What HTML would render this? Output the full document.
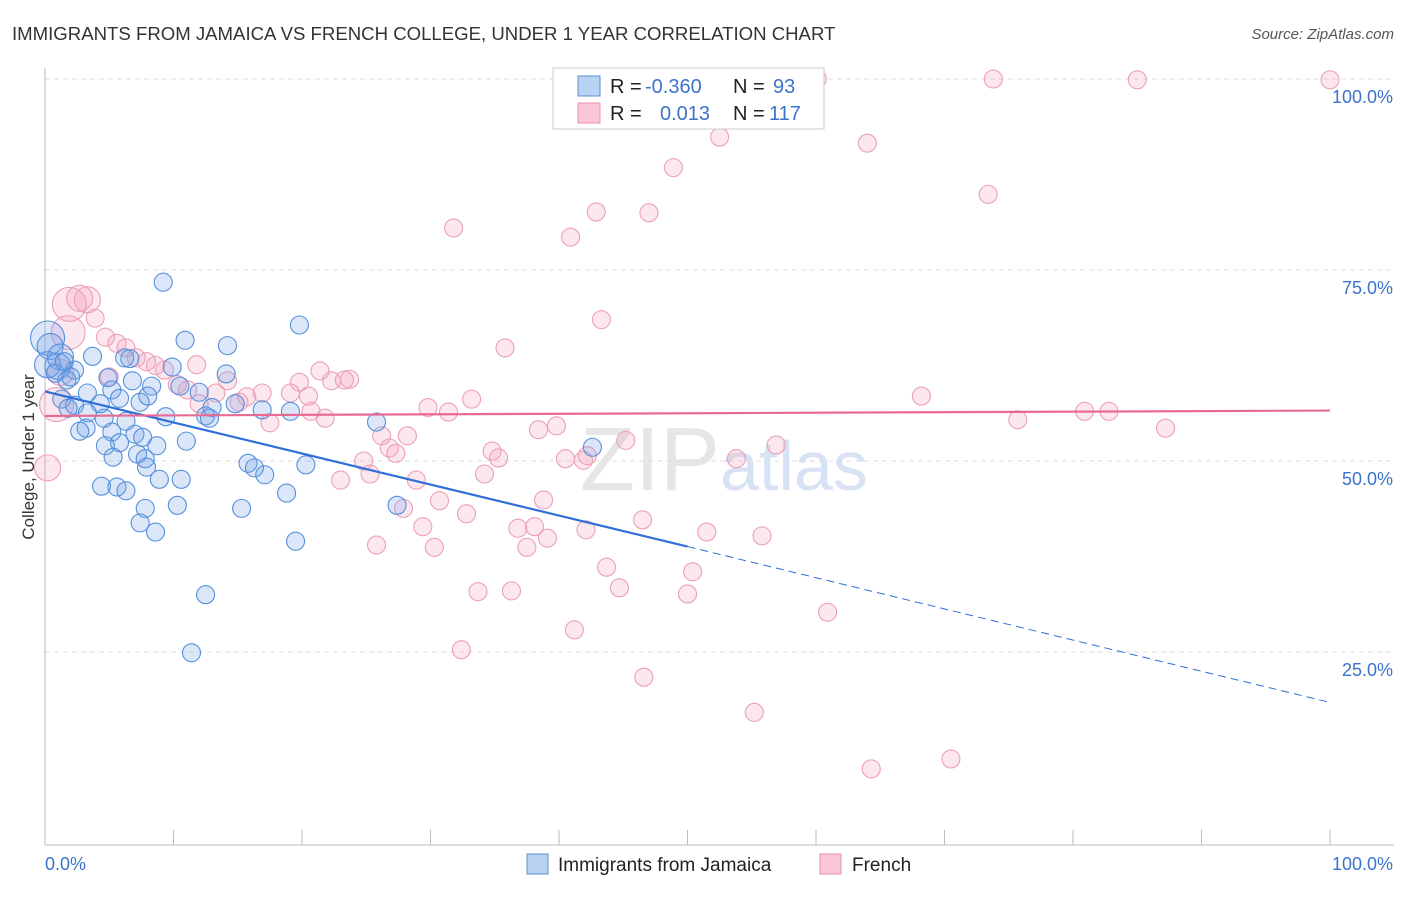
<!DOCTYPE html>
<html><head><meta charset="utf-8"><style>
body{margin:0;background:#fff;font-family:"Liberation Sans",sans-serif;}
svg text{font-family:"Liberation Sans",sans-serif;}
</style></head><body>
<svg id="c" width="1406" height="892" xmlns="http://www.w3.org/2000/svg">
<text x="12" y="40" font-size="18.6" fill="#333">IMMIGRANTS FROM JAMAICA VS FRENCH COLLEGE, UNDER 1 YEAR CORRELATION CHART</text>
<text x="1394" y="39" font-size="15" fill="#555" font-style="italic" text-anchor="end">Source: ZipAtlas.com</text>
<text x="720" y="490" font-size="90" fill="#e6e6e6" text-anchor="end" font-family="Liberation Serif">ZIP</text>
<text x="720" y="490" font-size="70" fill="#d7e3f5">atlas</text>
<text transform="translate(34,457) rotate(-90)" font-size="17" fill="#333" text-anchor="middle">College, Under 1 year</text>
<g id="grid"></g><g id="pts"></g><g id="lines"></g>
<g>
<rect x="553" y="68" width="271" height="61" fill="#fff" stroke="#ccc"/>
<rect x="578" y="76" width="22" height="20" fill="#b9d3f4" stroke="#5b8fd6"/>
<rect x="578" y="103" width="22" height="20" fill="#f9c7d6" stroke="#e890ad"/>
<g font-size="20">
<text x="610" y="93" fill="#222">R =</text><text x="645" y="93" fill="#3b73cc">-0.360</text>
<text x="733" y="93" fill="#222">N =</text><text x="773" y="93" fill="#3b73cc">93</text></g>
<g font-size="20">
<text x="610" y="120" fill="#222">R =</text><text x="660" y="120" fill="#3b73cc">0.013</text>
<text x="733" y="120" fill="#222">N =</text><text x="769" y="120" fill="#3b73cc">117</text></g>
</g>
<g>
<rect x="527" y="854" width="21" height="20" fill="#b9d3f4" stroke="#5b8fd6"/>
<text x="558" y="871" font-size="19" fill="#222">Immigrants from Jamaica</text>
<rect x="820" y="854" width="21" height="20" fill="#f9c7d6" stroke="#e890ad"/>
<text x="852" y="871" font-size="19" fill="#222">French</text>
</g>
</svg>
<script>
const xTicks=[0,10,20,30,40,50,60,70,80,90,100];
const yTicks=[25,50,75,100];
const yTickLabels=["25.0%","50.0%","75.0%","100.0%"];
const blueX=[9.2,10.9,19.8,14.2,0.2,0.4,1.2,3.7,6.2,1.0,2.3,4.9,1.7,6.6,9.9,14.1,8.3,10.5,5.2,3.3,1.3,2.3,4.3,5.8,7.4,14.8,16.9,19.1,1.8,3.3,4.6,6.3,9.4,12.5,12.8,25.8,3.2,2.7,5.2,7.0,7.6,5.8,4.7,8.7,11.0,42.6,7.2,5.3,7.8,15.8,16.3,20.3,17.1,7.9,8.9,10.6,4.4,5.6,6.3,18.8,27.4,7.8,10.3,15.3,7.4,8.6,19.5,12.5,11.4,0.2,0.8,2.0,1.5,8.0,12.0,13.0,6.8];
const blueY=[73.4,65.8,67.8,65.1,66.1,65.0,63.6,63.7,63.5,62.4,61.9,60.9,60.6,63.4,62.3,61.4,59.8,59.8,59.3,58.9,58.1,57.3,57.5,58.2,57.7,57.5,56.7,56.5,56.9,56.3,55.6,55.2,55.8,55.9,55.6,55.1,54.3,53.9,53.8,53.5,53.1,52.4,52.0,52.0,52.6,51.8,50.9,50.5,50.3,49.7,49.1,49.5,48.2,49.2,47.6,47.6,46.7,46.6,46.1,45.8,44.2,43.8,44.2,43.8,41.9,40.7,39.5,32.5,24.9,62.6,61.5,61.0,63.0,58.5,59.0,57.0,60.5];
const blueW=[1,1,1,1,3,2,2,1,1,2,1,1,1,1,1,1,1,1,1,1,1,1,1,1,1,1,1,1,1,1,1,1,1,1,1,1,1,1,1,1,1,1,1,1,1,1,1,1,1,1,1,1,1,1,1,1,1,1,1,1,1,1,1,1,1,1,1,1,1,2,1,1,1,1,1,1,1];
const pinkX=[60.1,73.8,85.0,100,52.5,64.0,48.9,73.4,42.9,47.0,31.8,40.9,2.7,3.3,1.9,3.9,43.3,1.8,4.7,5.6,6.3,35.8,7.9,11.8,8.6,9.3,21.4,1.2,23.3,23.7,22.3,19.8,14.2,10.3,11.1,13.3,15.7,16.9,19.1,20.5,33.2,68.2,0.9,15.1,29.8,31.4,20.7,21.8,80.9,82.8,75.7,87.2,26.2,28.2,38.4,39.8,45.2,56.9,26.8,27.3,34.8,35.3,42.2,41.9,24.8,40.5,53.8,0.2,25.3,23.0,34.2,28.9,27.9,38.8,30.7,32.8,29.4,36.8,38.1,42.1,46.5,51.5,55.8,39.1,37.5,25.8,30.3,43.7,50.4,44.7,33.7,36.3,50.0,60.9,41.2,32.4,46.6,55.2,64.3,70.5,7.1,5.0,17.5,12.0];
const pinkY=[100,100,99.9,99.9,92.4,91.6,88.4,84.9,82.6,82.5,80.5,79.3,71.3,71.1,70.5,68.7,68.5,66.8,66.2,65.4,64.8,64.8,63.0,62.6,62.5,61.9,61.8,61.6,60.6,60.7,60.5,60.3,60.5,60.0,59.3,58.9,58.4,58.9,58.9,58.5,58.1,58.5,57.4,57.7,57.0,56.4,56.5,55.6,56.5,56.5,55.4,54.3,53.3,53.3,54.1,54.6,52.7,52.1,51.7,51.0,51.3,50.4,50.7,50.1,50.0,50.3,50.3,49.1,48.3,47.5,48.3,47.5,43.8,44.9,44.8,43.1,41.4,41.2,41.4,41.0,42.3,40.7,40.2,39.9,38.7,39.0,38.7,36.1,35.5,33.4,32.9,33.0,32.6,30.2,27.9,25.3,21.7,17.1,9.7,11.0,63.5,61.0,55.0,57.5];
const pinkW=[1,1,1,1,1,1,1,1,1,1,1,1,2,2,3,1,1,3,1,1,1,1,1,1,1,1,1,2,1,1,1,1,1,1,1,1,1,1,1,1,1,1,3,1,1,1,1,1,1,1,1,1,1,1,1,1,1,1,1,1,1,1,1,1,1,1,1,2,1,1,1,1,1,1,1,1,1,1,1,1,1,1,1,1,1,1,1,1,1,1,1,1,1,1,1,1,1,1,1,1,1,1,1,1];
const blueTrend=[[0,59.1],[50,38.8],[100,18.4]];
const pinkTrend=[[0,55.9],[100,56.6]];
const X=v=>45+v*12.85, Y=v=>843-v*7.64;
const NS="http://www.w3.org/2000/svg";
function mk(tag,attrs,parent){const e=document.createElementNS(NS,tag);for(const k in attrs)e.setAttribute(k,attrs[k]);parent.appendChild(e);return e;}
const grid=document.getElementById('grid'),pts=document.getElementById('pts'),lines=document.getElementById('lines');
yTicks.forEach((t,i)=>{
 const l=mk('line',{x1:45,x2:1394,y1:Y(t),y2:Y(t),stroke:'#ddd','stroke-dasharray':'5,4'},grid);
 
 
 const tx=mk('text',{x:1393,y:Y(t)+24,'font-size':18,fill:'#3b73cc','text-anchor':'end'},grid);
 tx.textContent=yTickLabels[i];
 
 
});
const ax=mk('line',{x1:45,x2:1394,y1:845,y2:845,stroke:'#bbb'},grid);


const ay=mk('line',{x1:45,x2:45,y1:68,y2:845,stroke:'#bbb'},grid);


xTicks.forEach(t=>{
 const l=mk('line',{x1:X(t),x2:X(t),y1:830,y2:845,stroke:'#bbb'},grid);
 
 
});
const xl0=mk('text',{x:45,y:870,'font-size':18,fill:'#3b73cc'},grid);xl0.textContent='0.0%';


const xl1=mk('text',{x:1393,y:870,'font-size':18,fill:'#3b73cc','text-anchor':'end'},grid);xl1.textContent='100.0%';


function dots(xs,ys,ws,fill,stroke,name){
 xs.forEach((x,i)=>{
  const c=mk('circle',{cx:X(x),cy:Y(ys[i]),r:ws[i]===3?17:ws[i]===2?13:9,fill:fill,stroke:stroke,'stroke-width':1.1},pts);
  
  
 });
}
dots(pinkX,pinkY,pinkW,'rgba(244,160,188,0.25)','#ec9fb9','french-point');
dots(blueX,blueY,blueW,'rgba(110,160,230,0.25)','#5590dc','jamaica-point');
const b1=mk('line',{x1:X(blueTrend[0][0]),y1:Y(blueTrend[0][1]),x2:X(blueTrend[1][0]),y2:Y(blueTrend[1][1]),stroke:'#2f6fd6','stroke-width':2.2},lines);


const b2=mk('line',{x1:X(blueTrend[1][0]),y1:Y(blueTrend[1][1]),x2:X(blueTrend[2][0]),y2:Y(blueTrend[2][1]),stroke:'#2f6fd6','stroke-width':1,'stroke-dasharray':'8,5'},lines);


const p1=mk('line',{x1:X(pinkTrend[0][0]),y1:Y(pinkTrend[0][1]),x2:X(pinkTrend[1][0]),y2:Y(pinkTrend[1][1]),stroke:'#e86a92','stroke-width':2.2},lines);


</script>
</body></html>
